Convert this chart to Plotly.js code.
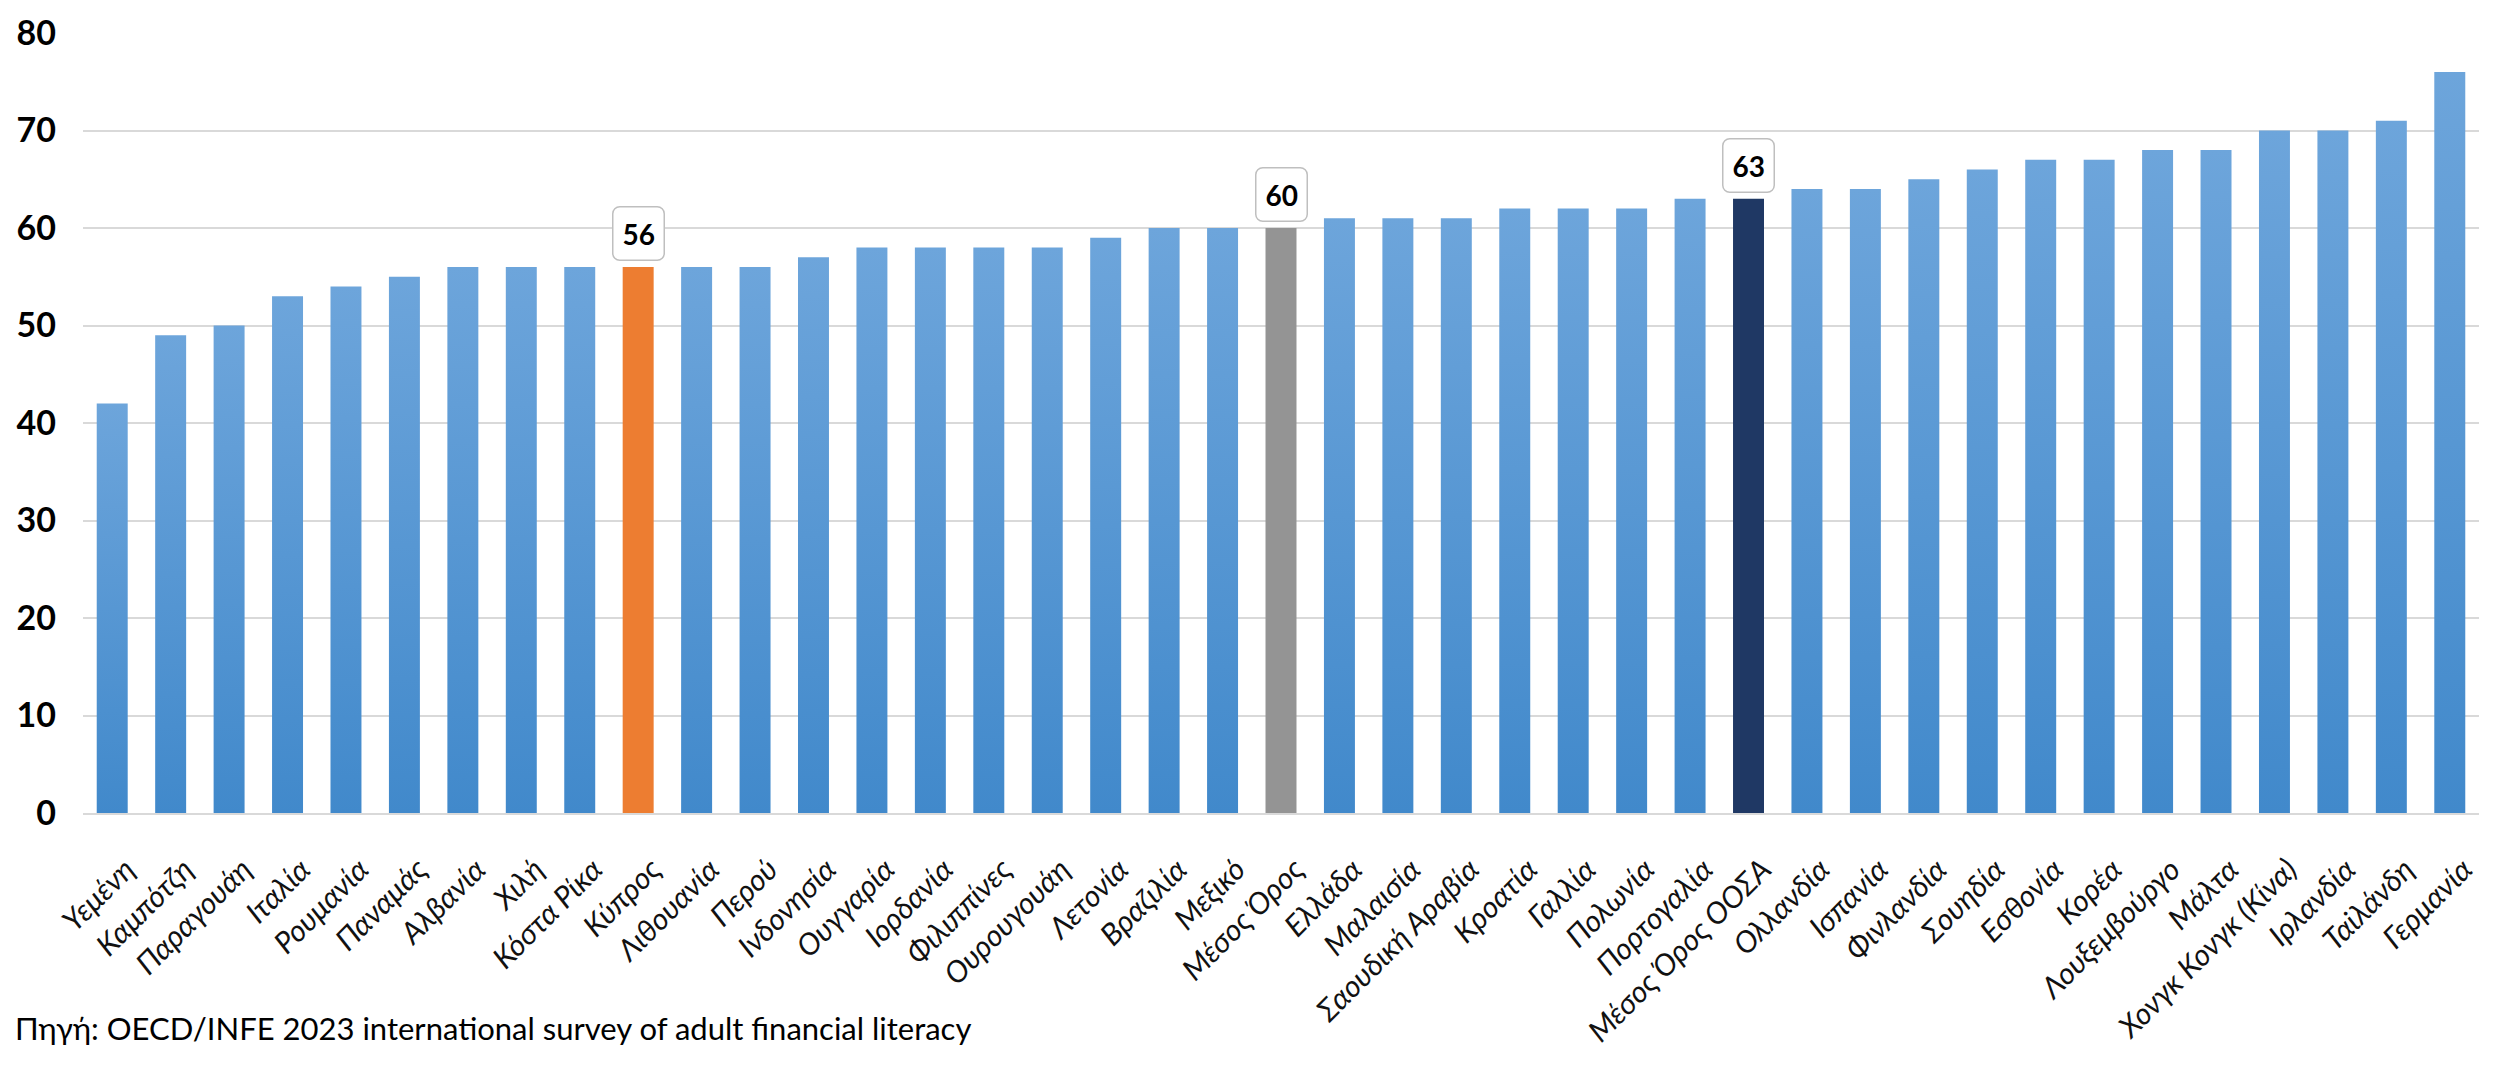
<!DOCTYPE html>
<html>
<head>
<meta charset="utf-8">
<script src="https://cdn.plot.ly/plotly-3.0.1.min.js"></script>
<style>
html,body{margin:0;padding:0;background:#fff;}
#chart{width:2512px;height:1068px;}
</style>
</head>
<body>
<div id="chart"></div>
<script>
const categories = ['Υεμένη','Καμπότζη','Παραγουάη','Ιταλία','Ρουμανία','Παναμάς','Αλβανία','Χιλή','Κόστα Ρίκα','Κύπρος','Λιθουανία','Περού','Ινδονησία','Ουγγαρία','Ιορδανία','Φιλιππίνες','Ουρουγουάη','Λετονία','Βραζιλία','Μεξικό','Μέσος Όρος','Ελλάδα','Μαλαισία','Σαουδική Αραβία','Κροατία','Γαλλία','Πολωνία','Πορτογαλία','Μέσος Όρος ΟΟΣΑ','Ολλανδία','Ισπανία','Φινλανδία','Σουηδία','Εσθονία','Κορέα','Λουξεμβούργο','Μάλτα','Χονγκ Κονγκ (Κίνα)','Ιρλανδία','Ταϊλάνδη','Γερμανία'];
const values = [42,49,50,53,54,55,56,56,56,56,56,56,57,58,58,58,58,59,60,60,60,61,61,61,62,62,62,63,63,64,64,65,66,67,67,68,68,70,70,71,76];
const labelled = ['Κύπρος','Μέσος Όρος','Μέσος Όρος ΟΟΣΑ'];
const yTicks = [0,10,20,30,40,50,60,70,80];
const sourceText = 'Πηγή: OECD/INFE 2023 international survey of adult financial literacy';

const specialColors = {'Κύπρος':'#ED7D31','Μέσος Όρος':'#949494','Μέσος Όρος ΟΟΣΑ':'#1F3864'};
const baseColor = '#5798D4';
const colors = categories.map(c => specialColors[c] || baseColor);
const FONT = 'Lato, "Open Sans", sans-serif';

const trace = {
  type:'bar', x:categories, y:values,
  marker:{color:colors, line:{width:0}},
  width:0.53, hoverinfo:'x+y'
};

const annotations = labelled.map(c => {
  const i = categories.indexOf(c);
  return {x:c, y:values[i], xref:'x', yref:'y', text:'<b>'+values[i]+'</b>',
    showarrow:false, yanchor:'bottom', yshift:6,
    font:{family:FONT, size:28, color:'#000'},
    bgcolor:'#ffffff', bordercolor:'#BFBFBF', borderwidth:1.5, borderpad:9};
});
annotations.push({text:sourceText, xref:'paper', yref:'paper', x:-0.0292, y:-0.276,
  xanchor:'left', yanchor:'middle', showarrow:false,
  font:{family:FONT, size:31, color:'#000'}});

const layout = {
  width:2512, height:1068,
  margin:{l:83, r:33, t:33, b:255},
  paper_bgcolor:'#fff', plot_bgcolor:'#fff',
  showlegend:false, bargap:0.47,
  xaxis:{type:'category', tickangle:-45, showgrid:false, zeroline:false,
    showline:true, linecolor:'#D9D9D9', linewidth:2, ticks:'',
    ticklabelstandoff:25, ticklabelshift:14,
    tickfont:{family:FONT, size:30, style:'italic', color:'#111'},
    range:[-0.5, categories.length-0.5]},
  yaxis:{range:[0,80], tickvals:yTicks, ticktext:yTicks.map(String), showgrid:true,
    gridcolor:'#D9D9D9', gridwidth:2, zeroline:false, showline:false, ticks:'',
    ticklabelstandoff:26,
    tickfont:{family:FONT, size:34, weight:'bold', color:'#000'}},
  annotations:annotations
};

Plotly.newPlot('chart',[trace],layout,{displayModeBar:false, staticPlot:true}).then(gd => {
  // vertical light-to-dark shading for the plain blue bars
  const svg = gd.querySelector('svg.main-svg');
  const defs = svg.querySelector('defs');
  const ns = 'http://www.w3.org/2000/svg';
  const grad = document.createElementNS(ns,'linearGradient');
  grad.setAttribute('id','barGrad');
  grad.setAttribute('x1','0'); grad.setAttribute('y1','0');
  grad.setAttribute('x2','0'); grad.setAttribute('y2','1');
  [['0%','#6DA5DB'],['100%','#4189CB']].forEach(([o,c]) => {
    const s = document.createElementNS(ns,'stop');
    s.setAttribute('offset',o); s.setAttribute('stop-color',c);
    grad.appendChild(s);
  });
  defs.appendChild(grad);
  const paths = gd.querySelectorAll('.barlayer .point path');
  paths.forEach((p,i) => {
    if (!specialColors[categories[i]]) p.style.fill = 'url(#barGrad)';
  });
  // rounded corners on the value boxes
  gd.querySelectorAll('.annotation rect.bg').forEach(r => {
    r.setAttribute('rx','7'); r.setAttribute('ry','7');
  });
});
</script>
</body>
</html>
